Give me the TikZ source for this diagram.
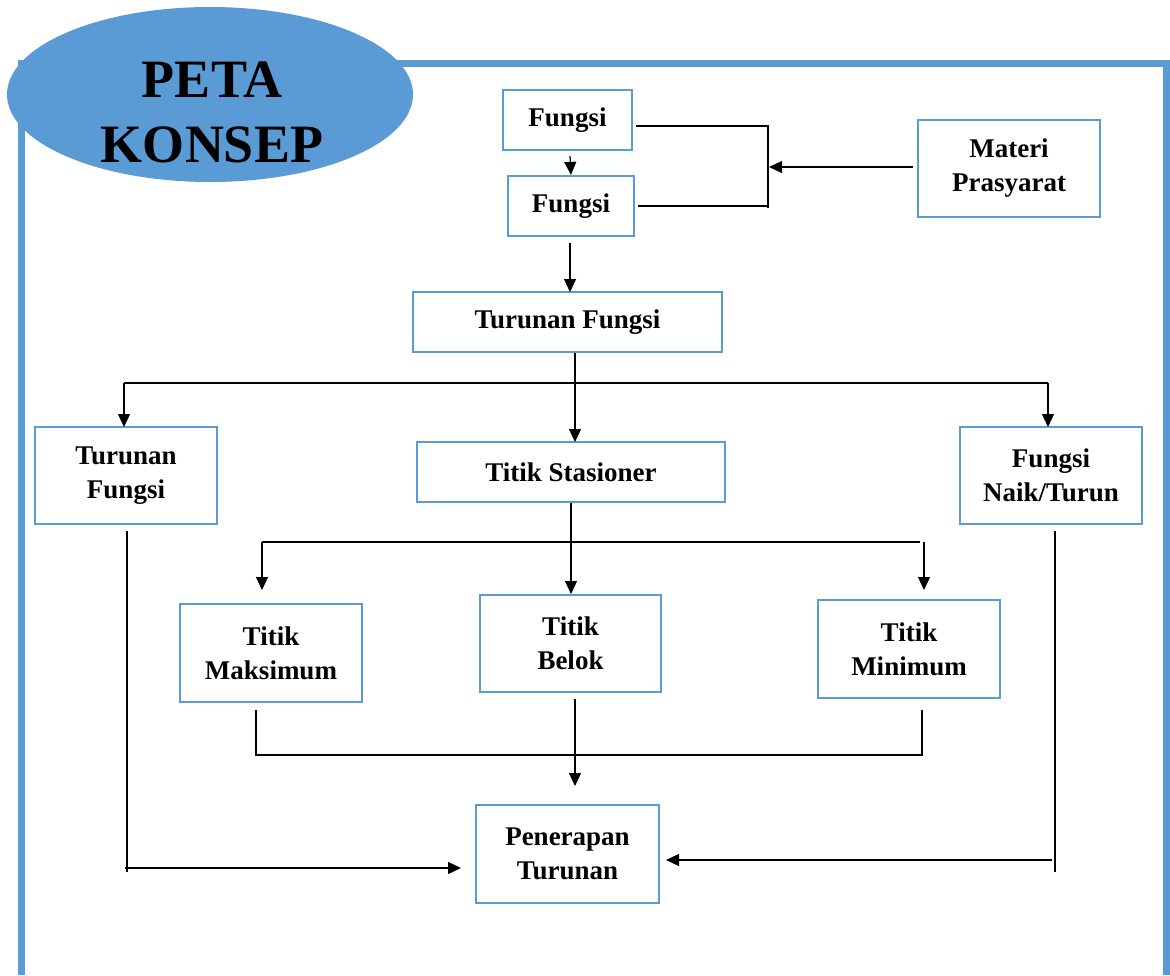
\documentclass[tikz,border=0pt]{standalone}
\usepackage{fontspec}
\setmainfont{Liberation Serif}
\usetikzlibrary{arrows.meta,shapes.geometric}
\definecolor{bblue}{HTML}{5B9BD5}
\tikzset{
  box/.style={draw=bblue, line width=2.2pt, fill=white, align=center, inner sep=0pt,
    font=\fontsize{27}{34}\selectfont\bfseries},
  conn/.style={draw=black, line width=1.2pt},
  arr/.style={conn, -{Triangle[length=13pt,width=12pt]}},
  frame/.style={draw=bblue, line width=7pt}
}
\begin{document}
\begin{tikzpicture}[x=1pt,y=-1pt]
\useasboundingbox (0,0) rectangle (1170,975);
% frame
\draw[frame] (21,975) -- (21,63) -- (1166,63) -- (1166,975);
\node[ellipse, fill=bblue, minimum width=406pt, minimum height=175pt, inner sep=0pt] (title) at (210,94.5) {};
\node[align=center, inner sep=0pt, font=\fontsize{54}{65}\selectfont\bfseries] (titletext) at (212,112) {PETA\\KONSEP};
% boxes
\node[box, minimum width=129pt, minimum height=60pt] (f1) at (567.5,120) {Fungsi};
\node[box, minimum width=126pt, minimum height=60pt] (f2) at (571,206) {Fungsi};
\node[box, minimum width=182pt, minimum height=97pt] (mp) at (1009,168.5) {Materi\\Prasyarat};
\node[box, minimum width=309pt, minimum height=60pt] (tf) at (567.5,322) {Turunan Fungsi};
\node[box, minimum width=182pt, minimum height=97pt] (tfl) at (126,475.5) {Turunan\\Fungsi};
\node[box, minimum width=308pt, minimum height=60pt] (ts) at (571,472) {Titik Stasioner};
\node[box, minimum width=182pt, minimum height=97pt] (fnt) at (1051,475.5) {Fungsi\\Naik/Turun};
\node[box, minimum width=182pt, minimum height=98pt] (tmax) at (271,653) {Titik\\Maksimum};
\node[box, minimum width=181pt, minimum height=97pt] (tb) at (570.5,643.5) {Titik\\Belok};
\node[box, minimum width=182pt, minimum height=98pt] (tmin) at (909,649) {Titik\\Minimum};
\node[box, minimum width=183pt, minimum height=98pt] (pt) at (567.5,854) {Penerapan\\Turunan};
% top connectors
\coordinate (a1) at (570,156);
\draw[arr] (a1) -- (f2.north);
\coordinate (b1) at (636,126);
\coordinate (b2) at (768,126);
\coordinate (b3) at (768,208);
\coordinate (b4) at (638,206);
\coordinate (b5) at (768,206);
\draw[conn] (b1) -- (b2) -- (b3);
\draw[conn] (b4) -- (b5);
\coordinate (m1) at (913,167);
\coordinate (m2) at (769,167);
\draw[arr] (m1) -- (m2);
\coordinate (c1) at (570,243);
\draw[arr] (c1) -- (570,292);
% distribution from Turunan Fungsi
\coordinate (d0) at (575,353);
\coordinate (dl) at (124,383);
\coordinate (dm) at (575,383);
\coordinate (dr) at (1048,383);
\draw[conn] (d0) -- (dm);
\draw[conn] (dl) -- (dr);
\draw[arr] (dl) -- (124,427);
\draw[arr] (dm) -- (575,442);
\draw[arr] (dr) -- (1048,427);
% from Titik Stasioner
\coordinate (e0) at (571,503);
\coordinate (el) at (262,542);
\coordinate (er) at (920,542);
\draw[arr] (e0) -- (571,594);
\draw[conn] (el) -- (er);
\draw[arr] (el) -- (262,590);
\draw[arr] (924,542) -- (924,590);
% into Penerapan
\coordinate (g1) at (256,710);
\coordinate (g2) at (256,755);
\coordinate (g3) at (922,755);
\coordinate (g4) at (922,710);
\draw[conn] (g1) -- (g2) -- (g3) -- (g4);
\coordinate (h0) at (575,699);
\draw[arr] (h0) -- (575,786);
\coordinate (l1) at (127,531);
\coordinate (l2) at (127,872);
\draw[conn] (l1) -- (l2);
\coordinate (l3) at (125,868);
\draw[arr] (l3) -- (461,868);
\coordinate (r1) at (1055,531);
\coordinate (r2) at (1055,872);
\draw[conn] (r1) -- (r2);
\coordinate (r3) at (1052,860);
\draw[arr] (r3) -- (666,860);
\end{tikzpicture}
\end{document}
